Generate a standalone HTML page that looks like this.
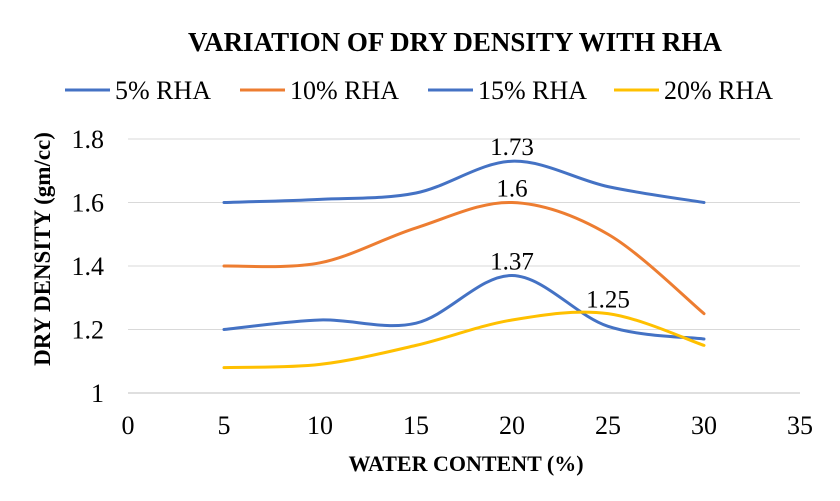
<!DOCTYPE html>
<html><head><meta charset="utf-8">
<style>
body{margin:0;background:#fff;}
svg{display:block;font-family:"Liberation Serif",serif;}
</style></head>
<body>
<svg id="chart" width="840" height="501" viewBox="0 0 840 501">
<rect width="840" height="501" fill="#fff"/>
<text x="455" y="51" text-anchor="middle" font-size="27" font-weight="bold">VARIATION OF DRY DENSITY WITH RHA</text>
<g id="legend"></g>
<g id="grid"></g>
<g id="yticks"></g>
<g id="xticks"></g>
<g id="series"></g>
<g id="labels"></g>
<text transform="translate(50,249) rotate(-90)" text-anchor="middle" font-size="23" font-weight="bold">DRY DENSITY (gm/cc)</text>
<text x="466" y="471" text-anchor="middle" font-size="22" font-weight="bold">WATER CONTENT (%)</text>
</svg>
<script>
const xValues = [5, 10, 15, 20, 25, 30];
const seriesNames = ["5% RHA", "10% RHA", "15% RHA", "20% RHA"];
const rha5 = [1.6, 1.61, 1.63, 1.73, 1.65, 1.6];
const rha10 = [1.4, 1.41, 1.52, 1.6, 1.5, 1.25];
const rha15 = [1.2, 1.23, 1.22, 1.37, 1.21, 1.17];
const rha20 = [1.08, 1.09, 1.15, 1.23, 1.25, 1.15];
const xTicks = [0, 5, 10, 15, 20, 25, 30, 35];
const yTicks = [1, 1.2, 1.4, 1.6, 1.8];
const yTickLabels = ["1", "1.2", "1.4", "1.6", "1.8"];
const labelIndex = [3, 3, 3, 4];
const labelText = ["1.73", "1.6", "1.37", "1.25"];

const colors = ["#4472C4", "#ED7D31", "#4472C4", "#FFC000"];
const allSeries = [rha5, rha10, rha15, rha20];
const NS = "http://www.w3.org/2000/svg";
const X = v => 128 + (v - 0) * (800 - 128) / 35;
const Y = v => 393 - (v - 1) * (393 - 139) / 0.8;
function mk(tag, attrs, parent, text) {
  const e = document.createElementNS(NS, tag);
  for (const k in attrs) e.setAttribute(k, attrs[k]);
  if (text !== undefined) e.textContent = text;
  parent.appendChild(e);
  return e;
}
const grid = document.getElementById("grid");
yTicks.forEach((t, i) => {
  const l = mk("line", {x1: 128, x2: 800, y1: Y(t), y2: Y(t), stroke: i === 0 ? "#bfbfbf" : "#d9d9d9", "stroke-width": 1}, grid);
  
  
  const tx = mk("text", {x: 104, y: Y(t) + 9, "text-anchor": "end", "font-size": 26}, document.getElementById("yticks"), yTickLabels[i]);
  
  
});
xTicks.forEach(t => {
  const tx = mk("text", {x: X(t), y: 434, "text-anchor": "middle", "font-size": 26}, document.getElementById("xticks"), String(t));
  
  
});
function smoothPath(pts) {
  let d = `M${pts[0][0]},${pts[0][1]}`;
  for (let i = 0; i < pts.length - 1; i++) {
    const p0 = pts[i - 1] || pts[i], p1 = pts[i], p2 = pts[i + 1], p3 = pts[i + 2] || p2;
    const c1 = [p1[0] + (p2[0] - p0[0]) / 6, p1[1] + (p2[1] - p0[1]) / 6];
    const c2 = [p2[0] - (p3[0] - p1[0]) / 6, p2[1] - (p3[1] - p1[1]) / 6];
    d += ` C${c1[0]},${c1[1]} ${c2[0]},${c2[1]} ${p2[0]},${p2[1]}`;
  }
  return d;
}
const sg = document.getElementById("series");
const lg = document.getElementById("labels");
allSeries.forEach((s, si) => {
  const pts = s.map((v, i) => [X(xValues[i]), Y(v)]);
  const p = mk("path", {d: smoothPath(pts), fill: "none", stroke: colors[si], "stroke-width": 3, "stroke-linecap": "round"}, sg);
  
  
  const li = labelIndex[si];
  const t = mk("text", {x: X(xValues[li]), y: Y(s[li]) - 6, "text-anchor": "middle", "font-size": 25}, lg, labelText[si]);
  
  
});
const legend = document.getElementById("legend");
const legX = [65, 240, 428, 614];
seriesNames.forEach((n, i) => {
  const l = mk("line", {x1: legX[i], x2: legX[i] + 45, y1: 90, y2: 90, stroke: colors[i], "stroke-width": 3}, legend);
  
  
  const t = mk("text", {x: legX[i] + 50, y: 99, "font-size": 26}, legend, n);
  
  
});
</script>
</body></html>
